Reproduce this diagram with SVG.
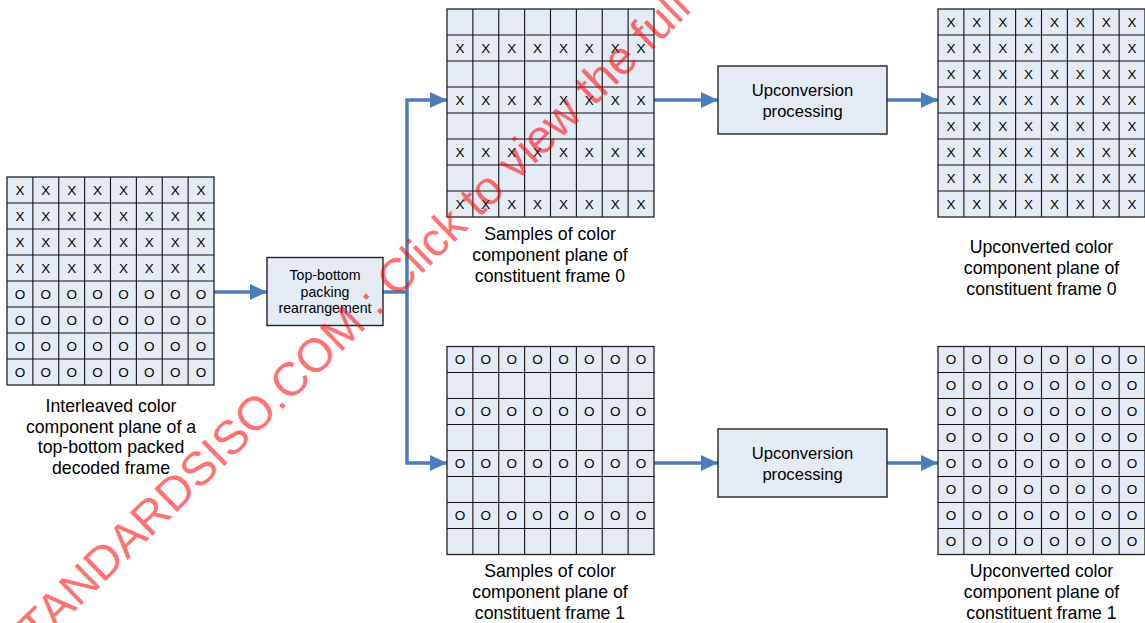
<svg xmlns="http://www.w3.org/2000/svg" xmlns:xlink="http://www.w3.org/1999/xlink" width="1145" height="623" viewBox="0 0 1145 623">
<style>
.cell{fill:#E5EBF5;stroke:none}
.gl{fill:none;stroke:#111;stroke-width:1.1}
.gb{fill:none;stroke:#222;stroke-width:1.3}
.c{font-family:"Liberation Sans",Arial,sans-serif;font-size:13.5px;fill:#000;text-anchor:middle}
.lbl{font-family:"Liberation Sans",Arial,sans-serif;font-size:17.7px;fill:#000;text-anchor:middle}
.box{fill:#E5EBF5;stroke:#222;stroke-width:1.4}
.bt{font-family:"Liberation Sans",Arial,sans-serif;font-size:16.6px;fill:#000;text-anchor:middle}
.bts{font-family:"Liberation Sans",Arial,sans-serif;font-size:14.2px;fill:#000;text-anchor:middle}
.conn{fill:none;stroke:#4A7EBB;stroke-width:3.5;stroke-linejoin:miter}
.wm{font-family:"Liberation Sans",Arial,sans-serif;font-size:47.2px;fill:#FF0000;opacity:0.55}
</style>
<defs>
<marker id="ah" markerUnits="userSpaceOnUse" markerWidth="17" markerHeight="16" refX="17" refY="8" orient="auto">
<path d="M0,0 L17,8 L0,16 Z" fill="#4A7EBB"/>
</marker>
<g id="grid">
<rect class="cell" x="0" y="0" width="207" height="208"/>
<path class="gl" d="M25.875,0V208M51.75,0V208M77.625,0V208M103.5,0V208M129.375,0V208M155.25,0V208M181.125,0V208M0,26H207M0,52H207M0,78H207M0,104H207M0,130H207M0,156H207M0,182H207"/>
<rect class="gb" x="0" y="0" width="207" height="208"/>
</g>
</defs>

<g id="connectors">
<path class="conn" d="M214,292 H267" marker-end="url(#ah)"/>
<path class="conn" d="M383,292 H407"/>
<path class="conn" d="M407,292 V100 H447" marker-end="url(#ah)"/>
<path class="conn" d="M407,292 V463 H447" marker-end="url(#ah)"/>
<path class="conn" d="M654,100 H718" marker-end="url(#ah)"/>
<path class="conn" d="M887,100 H938" marker-end="url(#ah)"/>
<path class="conn" d="M654,463 H718" marker-end="url(#ah)"/>
<path class="conn" d="M887,463 H938" marker-end="url(#ah)"/>
</g>

<g id="interleaved">
<use xlink:href="#grid" href="#grid" x="7" y="177"/>
<g class="c">
<text x="19.9" y="194.7">X</text><text x="45.8" y="194.7">X</text><text x="71.7" y="194.7">X</text><text x="97.6" y="194.7">X</text><text x="123.5" y="194.7">X</text><text x="149.3" y="194.7">X</text><text x="175.2" y="194.7">X</text><text x="201.1" y="194.7">X</text>
<text x="19.9" y="220.7">X</text><text x="45.8" y="220.7">X</text><text x="71.7" y="220.7">X</text><text x="97.6" y="220.7">X</text><text x="123.5" y="220.7">X</text><text x="149.3" y="220.7">X</text><text x="175.2" y="220.7">X</text><text x="201.1" y="220.7">X</text>
<text x="19.9" y="246.7">X</text><text x="45.8" y="246.7">X</text><text x="71.7" y="246.7">X</text><text x="97.6" y="246.7">X</text><text x="123.5" y="246.7">X</text><text x="149.3" y="246.7">X</text><text x="175.2" y="246.7">X</text><text x="201.1" y="246.7">X</text>
<text x="19.9" y="272.7">X</text><text x="45.8" y="272.7">X</text><text x="71.7" y="272.7">X</text><text x="97.6" y="272.7">X</text><text x="123.5" y="272.7">X</text><text x="149.3" y="272.7">X</text><text x="175.2" y="272.7">X</text><text x="201.1" y="272.7">X</text>
<text x="19.9" y="298.7">O</text><text x="45.8" y="298.7">O</text><text x="71.7" y="298.7">O</text><text x="97.6" y="298.7">O</text><text x="123.5" y="298.7">O</text><text x="149.3" y="298.7">O</text><text x="175.2" y="298.7">O</text><text x="201.1" y="298.7">O</text>
<text x="19.9" y="324.7">O</text><text x="45.8" y="324.7">O</text><text x="71.7" y="324.7">O</text><text x="97.6" y="324.7">O</text><text x="123.5" y="324.7">O</text><text x="149.3" y="324.7">O</text><text x="175.2" y="324.7">O</text><text x="201.1" y="324.7">O</text>
<text x="19.9" y="350.7">O</text><text x="45.8" y="350.7">O</text><text x="71.7" y="350.7">O</text><text x="97.6" y="350.7">O</text><text x="123.5" y="350.7">O</text><text x="149.3" y="350.7">O</text><text x="175.2" y="350.7">O</text><text x="201.1" y="350.7">O</text>
<text x="19.9" y="376.7">O</text><text x="45.8" y="376.7">O</text><text x="71.7" y="376.7">O</text><text x="97.6" y="376.7">O</text><text x="123.5" y="376.7">O</text><text x="149.3" y="376.7">O</text><text x="175.2" y="376.7">O</text><text x="201.1" y="376.7">O</text>
</g>
<text class="lbl" x="111" y="412">Interleaved color</text>
<text class="lbl" x="111" y="432.5">component plane of a</text>
<text class="lbl" x="111" y="453">top-bottom packed</text>
<text class="lbl" x="111" y="473.5">decoded frame</text>
</g>

<g id="packing">
<rect class="box" x="267" y="257.5" width="116" height="68"/>
<text class="bts" x="325" y="279.5">Top-bottom</text>
<text class="bts" x="325" y="296.5">packing</text>
<text class="bts" x="325" y="313">rearrangement</text>
</g>

<g id="samples0">
<use xlink:href="#grid" href="#grid" x="447" y="9"/>
<g class="c">
<text x="459.9" y="52.7">X</text><text x="485.8" y="52.7">X</text><text x="511.7" y="52.7">X</text><text x="537.6" y="52.7">X</text><text x="563.5" y="52.7">X</text><text x="589.3" y="52.7">X</text><text x="615.2" y="52.7">X</text><text x="641.1" y="52.7">X</text>
<text x="459.9" y="104.7">X</text><text x="485.8" y="104.7">X</text><text x="511.7" y="104.7">X</text><text x="537.6" y="104.7">X</text><text x="563.5" y="104.7">X</text><text x="589.3" y="104.7">X</text><text x="615.2" y="104.7">X</text><text x="641.1" y="104.7">X</text>
<text x="459.9" y="156.7">X</text><text x="485.8" y="156.7">X</text><text x="511.7" y="156.7">X</text><text x="537.6" y="156.7">X</text><text x="563.5" y="156.7">X</text><text x="589.3" y="156.7">X</text><text x="615.2" y="156.7">X</text><text x="641.1" y="156.7">X</text>
<text x="459.9" y="208.7">X</text><text x="485.8" y="208.7">X</text><text x="511.7" y="208.7">X</text><text x="537.6" y="208.7">X</text><text x="563.5" y="208.7">X</text><text x="589.3" y="208.7">X</text><text x="615.2" y="208.7">X</text><text x="641.1" y="208.7">X</text>
</g>
<text class="lbl" x="550" y="240">Samples of color</text>
<text class="lbl" x="550" y="261">component plane of</text>
<text class="lbl" x="550" y="282">constituent frame 0</text>
</g>

<g id="samples1">
<use xlink:href="#grid" href="#grid" x="447" y="346.5"/>
<g class="c">
<text x="459.9" y="364.2">O</text><text x="485.8" y="364.2">O</text><text x="511.7" y="364.2">O</text><text x="537.6" y="364.2">O</text><text x="563.5" y="364.2">O</text><text x="589.3" y="364.2">O</text><text x="615.2" y="364.2">O</text><text x="641.1" y="364.2">O</text>
<text x="459.9" y="416.2">O</text><text x="485.8" y="416.2">O</text><text x="511.7" y="416.2">O</text><text x="537.6" y="416.2">O</text><text x="563.5" y="416.2">O</text><text x="589.3" y="416.2">O</text><text x="615.2" y="416.2">O</text><text x="641.1" y="416.2">O</text>
<text x="459.9" y="468.2">O</text><text x="485.8" y="468.2">O</text><text x="511.7" y="468.2">O</text><text x="537.6" y="468.2">O</text><text x="563.5" y="468.2">O</text><text x="589.3" y="468.2">O</text><text x="615.2" y="468.2">O</text><text x="641.1" y="468.2">O</text>
<text x="459.9" y="520.2">O</text><text x="485.8" y="520.2">O</text><text x="511.7" y="520.2">O</text><text x="537.6" y="520.2">O</text><text x="563.5" y="520.2">O</text><text x="589.3" y="520.2">O</text><text x="615.2" y="520.2">O</text><text x="641.1" y="520.2">O</text>
</g>
<text class="lbl" x="550" y="577">Samples of color</text>
<text class="lbl" x="550" y="598">component plane of</text>
<text class="lbl" x="550" y="619">constituent frame 1</text>
</g>

<g id="upconv0">
<rect class="box" x="718" y="66" width="169" height="68"/>
<text class="bt" x="802.5" y="95.5">Upconversion</text>
<text class="bt" x="802.5" y="117">processing</text>
</g>

<g id="upconv1">
<rect class="box" x="718" y="429" width="169" height="68"/>
<text class="bt" x="802.5" y="458.5">Upconversion</text>
<text class="bt" x="802.5" y="480">processing</text>
</g>

<g id="upconverted0">
<use xlink:href="#grid" href="#grid" x="938" y="9"/>
<g class="c">
<text x="950.9" y="26.7">X</text><text x="976.8" y="26.7">X</text><text x="1002.7" y="26.7">X</text><text x="1028.6" y="26.7">X</text><text x="1054.5" y="26.7">X</text><text x="1080.3" y="26.7">X</text><text x="1106.2" y="26.7">X</text><text x="1132.1" y="26.7">X</text>
<text x="950.9" y="52.7">X</text><text x="976.8" y="52.7">X</text><text x="1002.7" y="52.7">X</text><text x="1028.6" y="52.7">X</text><text x="1054.5" y="52.7">X</text><text x="1080.3" y="52.7">X</text><text x="1106.2" y="52.7">X</text><text x="1132.1" y="52.7">X</text>
<text x="950.9" y="78.7">X</text><text x="976.8" y="78.7">X</text><text x="1002.7" y="78.7">X</text><text x="1028.6" y="78.7">X</text><text x="1054.5" y="78.7">X</text><text x="1080.3" y="78.7">X</text><text x="1106.2" y="78.7">X</text><text x="1132.1" y="78.7">X</text>
<text x="950.9" y="104.7">X</text><text x="976.8" y="104.7">X</text><text x="1002.7" y="104.7">X</text><text x="1028.6" y="104.7">X</text><text x="1054.5" y="104.7">X</text><text x="1080.3" y="104.7">X</text><text x="1106.2" y="104.7">X</text><text x="1132.1" y="104.7">X</text>
<text x="950.9" y="130.7">X</text><text x="976.8" y="130.7">X</text><text x="1002.7" y="130.7">X</text><text x="1028.6" y="130.7">X</text><text x="1054.5" y="130.7">X</text><text x="1080.3" y="130.7">X</text><text x="1106.2" y="130.7">X</text><text x="1132.1" y="130.7">X</text>
<text x="950.9" y="156.7">X</text><text x="976.8" y="156.7">X</text><text x="1002.7" y="156.7">X</text><text x="1028.6" y="156.7">X</text><text x="1054.5" y="156.7">X</text><text x="1080.3" y="156.7">X</text><text x="1106.2" y="156.7">X</text><text x="1132.1" y="156.7">X</text>
<text x="950.9" y="182.7">X</text><text x="976.8" y="182.7">X</text><text x="1002.7" y="182.7">X</text><text x="1028.6" y="182.7">X</text><text x="1054.5" y="182.7">X</text><text x="1080.3" y="182.7">X</text><text x="1106.2" y="182.7">X</text><text x="1132.1" y="182.7">X</text>
<text x="950.9" y="208.7">X</text><text x="976.8" y="208.7">X</text><text x="1002.7" y="208.7">X</text><text x="1028.6" y="208.7">X</text><text x="1054.5" y="208.7">X</text><text x="1080.3" y="208.7">X</text><text x="1106.2" y="208.7">X</text><text x="1132.1" y="208.7">X</text>
</g>
<text class="lbl" x="1041.5" y="253">Upconverted color</text>
<text class="lbl" x="1041.5" y="274">component plane of</text>
<text class="lbl" x="1041.5" y="295">constituent frame 0</text>
</g>

<g id="upconverted1">
<use xlink:href="#grid" href="#grid" x="938" y="346.5"/>
<g class="c">
<text x="950.9" y="364.2">O</text><text x="976.8" y="364.2">O</text><text x="1002.7" y="364.2">O</text><text x="1028.6" y="364.2">O</text><text x="1054.5" y="364.2">O</text><text x="1080.3" y="364.2">O</text><text x="1106.2" y="364.2">O</text><text x="1132.1" y="364.2">O</text>
<text x="950.9" y="390.2">O</text><text x="976.8" y="390.2">O</text><text x="1002.7" y="390.2">O</text><text x="1028.6" y="390.2">O</text><text x="1054.5" y="390.2">O</text><text x="1080.3" y="390.2">O</text><text x="1106.2" y="390.2">O</text><text x="1132.1" y="390.2">O</text>
<text x="950.9" y="416.2">O</text><text x="976.8" y="416.2">O</text><text x="1002.7" y="416.2">O</text><text x="1028.6" y="416.2">O</text><text x="1054.5" y="416.2">O</text><text x="1080.3" y="416.2">O</text><text x="1106.2" y="416.2">O</text><text x="1132.1" y="416.2">O</text>
<text x="950.9" y="442.2">O</text><text x="976.8" y="442.2">O</text><text x="1002.7" y="442.2">O</text><text x="1028.6" y="442.2">O</text><text x="1054.5" y="442.2">O</text><text x="1080.3" y="442.2">O</text><text x="1106.2" y="442.2">O</text><text x="1132.1" y="442.2">O</text>
<text x="950.9" y="468.2">O</text><text x="976.8" y="468.2">O</text><text x="1002.7" y="468.2">O</text><text x="1028.6" y="468.2">O</text><text x="1054.5" y="468.2">O</text><text x="1080.3" y="468.2">O</text><text x="1106.2" y="468.2">O</text><text x="1132.1" y="468.2">O</text>
<text x="950.9" y="494.2">O</text><text x="976.8" y="494.2">O</text><text x="1002.7" y="494.2">O</text><text x="1028.6" y="494.2">O</text><text x="1054.5" y="494.2">O</text><text x="1080.3" y="494.2">O</text><text x="1106.2" y="494.2">O</text><text x="1132.1" y="494.2">O</text>
<text x="950.9" y="520.2">O</text><text x="976.8" y="520.2">O</text><text x="1002.7" y="520.2">O</text><text x="1028.6" y="520.2">O</text><text x="1054.5" y="520.2">O</text><text x="1080.3" y="520.2">O</text><text x="1106.2" y="520.2">O</text><text x="1132.1" y="520.2">O</text>
<text x="950.9" y="546.2">O</text><text x="976.8" y="546.2">O</text><text x="1002.7" y="546.2">O</text><text x="1028.6" y="546.2">O</text><text x="1054.5" y="546.2">O</text><text x="1080.3" y="546.2">O</text><text x="1106.2" y="546.2">O</text><text x="1132.1" y="546.2">O</text>
</g>
<text class="lbl" x="1041.5" y="577">Upconverted color</text>
<text class="lbl" x="1041.5" y="598">component plane of</text>
<text class="lbl" x="1041.5" y="619">constituent frame 1</text>
</g>

<text class="wm" transform="translate(15.1,669.4) rotate(-44.2)">STANDARDSISO.COM : Click to view the full</text>
</svg>
